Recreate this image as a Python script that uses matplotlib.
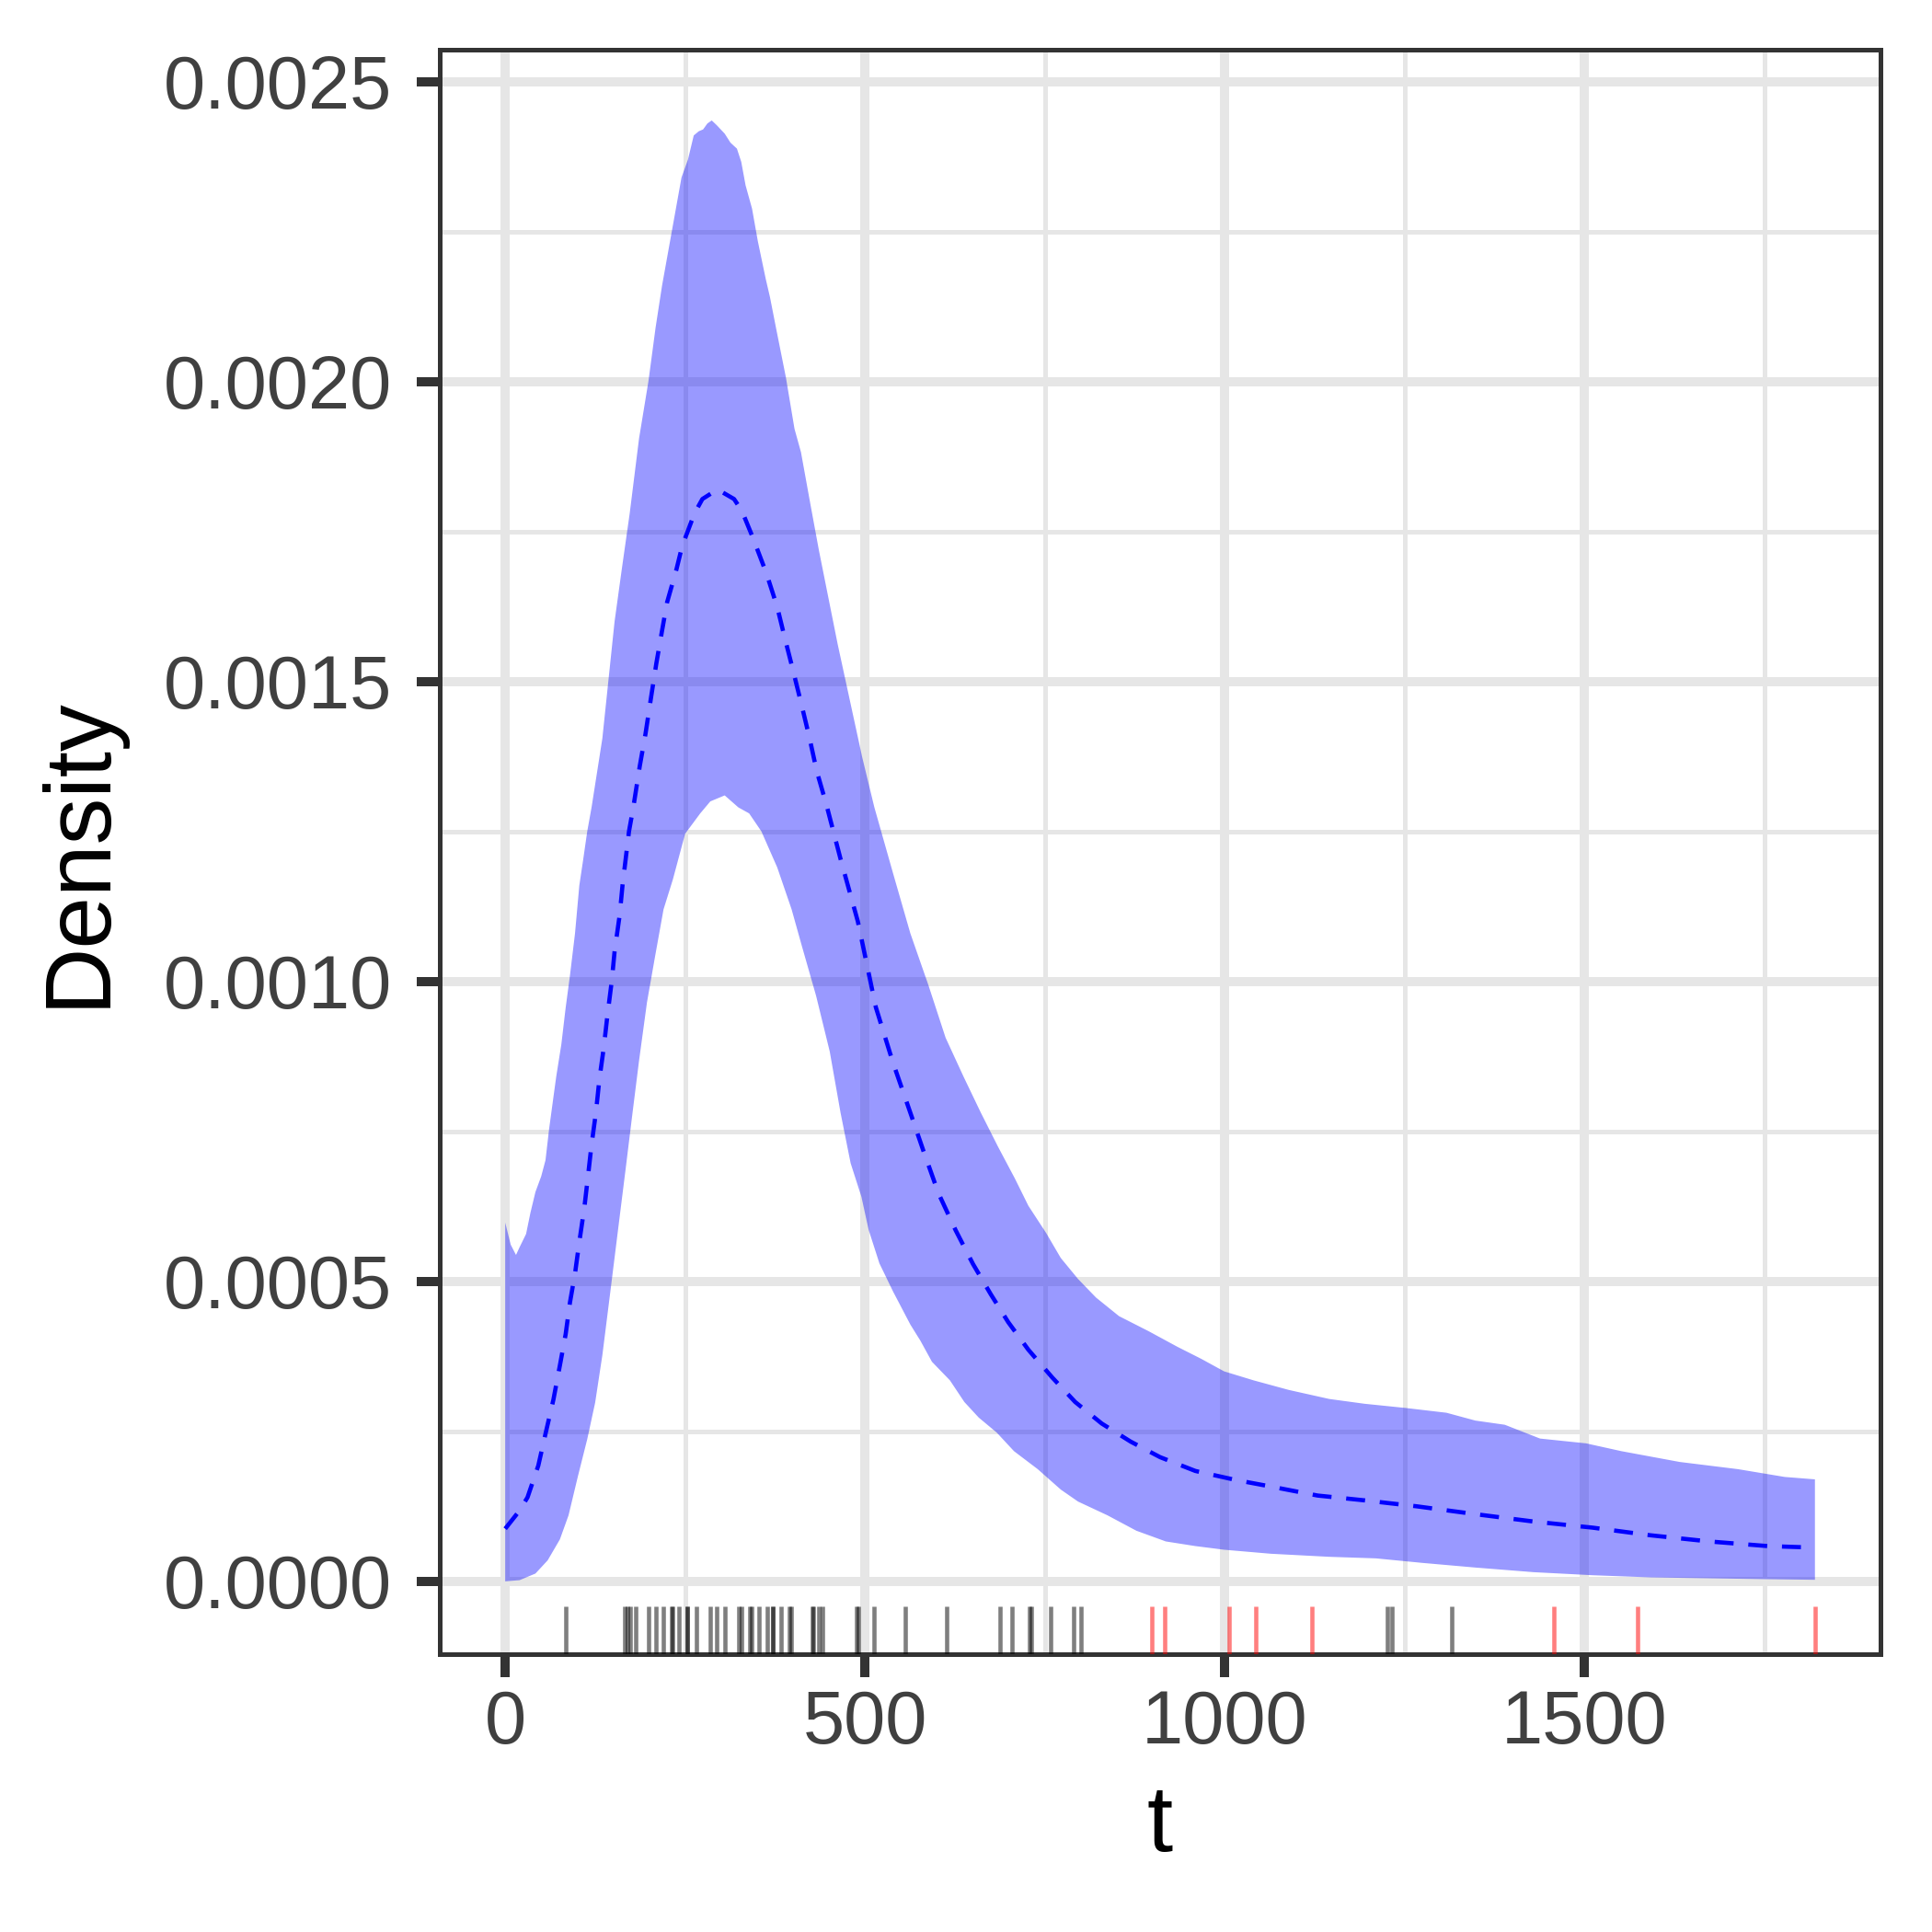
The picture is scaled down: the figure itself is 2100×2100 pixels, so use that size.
import numpy as np
import matplotlib
matplotlib.use("Agg")
import matplotlib.pyplot as plt
from matplotlib.ticker import FixedLocator, FormatStrFormatter

plt.rcParams["font.family"] = ["Liberation Sans", "DejaVu Sans"]

# ── data ─────────────────────────────────────────────────────────────────────
# upper edge of the credible band
upper_t = [0, 7.7, 15, 20, 29, 35, 42, 50, 56, 61, 67, 71, 78, 84, 90, 97,
           103, 108, 114, 120, 135, 152, 162, 173, 186, 199, 209, 218, 224,
           233, 239, 245, 254, 262, 269, 275, 281, 287, 294, 305, 313, 322,
           328, 334, 343, 351, 362, 368, 377, 390, 402, 411, 424, 436, 449,
           462, 479, 496, 513, 539, 563, 588, 612, 637, 661, 685, 708, 727,
           752, 772, 796, 821, 853, 894, 934, 967, 999, 1040, 1089, 1145,
           1194, 1251, 1308, 1348, 1389, 1438, 1502, 1551, 1632, 1713, 1778,
           1820]
upper_v = [0.000598, 0.000561, 0.000544, 0.000557, 0.000579, 0.000614,
           0.000649, 0.000675, 0.000702, 0.000754, 0.000807, 0.000842,
           0.000895, 0.000956, 0.00101, 0.00108, 0.00116, 0.0012, 0.00125,
           0.00129, 0.001405, 0.0016, 0.001687, 0.00178, 0.001905, 0.0020,
           0.00209, 0.00216, 0.0022, 0.00226, 0.0023, 0.00234, 0.00237,
           0.00241, 0.002417, 0.00242, 0.00243, 0.002435, 0.002427, 0.002413,
           0.002398, 0.002388, 0.002366, 0.002327, 0.002288, 0.002234,
           0.002171, 0.00214, 0.002085, 0.002007, 0.001921, 0.001882,
           0.001796, 0.001718, 0.00164, 0.001562, 0.001468, 0.001374,
           0.00129, 0.00118, 0.00108, 0.000994, 0.000906, 0.000841, 0.000781,
           0.000724, 0.000672, 0.000626, 0.00058, 0.000539, 0.000504,
           0.000473, 0.000442, 0.000417, 0.000391, 0.000371, 0.00035,
           0.000335, 0.000319, 0.000304, 0.000296, 0.000289, 0.000281,
           0.000268, 0.000261, 0.000238, 0.00023, 0.000217, 0.000199,
           0.000187, 0.000174, 0.00017]

# lower edge of the credible band
lower_t = [0, 20, 42, 59, 76, 88, 101, 114, 125, 135, 146, 157, 167, 176,
           186, 197, 208, 220, 233, 250, 271, 285, 305, 324, 339, 356, 378,
           398, 412, 432, 451, 466, 480, 495, 505, 520, 539, 563, 577, 593,
           618, 638, 658, 683, 707, 740, 772, 796, 837, 877, 918, 959, 999,
           1064, 1145, 1210, 1275, 1348, 1429, 1511, 1592, 1673, 1754, 1820]
lower_v = [0.0, 0.000002, 0.000013, 0.000035, 0.00007, 0.00011, 0.000175,
           0.000237, 0.000298, 0.000377, 0.000482, 0.000588, 0.000684,
           0.000772, 0.000868, 0.000965, 0.00104, 0.00112, 0.00117, 0.001246,
           0.00128, 0.0013, 0.00131, 0.00129, 0.00128, 0.00125, 0.00119,
           0.00112, 0.00106, 0.000976, 0.000883, 0.000781, 0.000697,
           0.000641, 0.000586, 0.00053, 0.000483, 0.000428, 0.000401,
           0.000366, 0.000335, 0.000299, 0.000273, 0.000248, 0.000217,
           0.000187, 0.000153, 0.000133, 0.00011, 0.0000844, 0.0000665,
           0.0000588, 0.0000527, 0.000046, 0.0000409, 0.0000383, 0.0000307,
           0.000023, 0.0000153, 0.0000102, 0.0000066, 0.0000051, 0.0000036,
           0.0000026]

# posterior mean density (dashed)
mean_t = [0, 20, 31, 46, 56, 67, 76, 84, 90, 97, 103, 110, 115, 120, 126,
          131, 137, 142, 148, 152, 159, 163, 168, 172, 178, 187, 195, 203,
          210, 218, 225, 238, 246, 263, 274, 295, 318, 329, 344, 363, 378,
          389, 399, 412, 423, 433, 446, 466, 490, 515, 539, 563, 581, 602,
          626, 650, 675, 699, 727, 760, 792, 829, 869, 910, 959, 1015, 1064,
          1129, 1194, 1267, 1348, 1429, 1511, 1592, 1673, 1754, 1820]
mean_v = [0.0000877, 0.000118, 0.00014, 0.000193, 0.000246, 0.000303,
          0.00036, 0.000412, 0.000465, 0.000513, 0.000566, 0.000623,
          0.000675, 0.000728, 0.000781, 0.000838, 0.00089, 0.000943, 0.001,
          0.00105, 0.00111, 0.00116, 0.00121, 0.00125, 0.00129, 0.001359,
          0.001413, 0.001476, 0.00153, 0.001585, 0.001632, 0.001687,
          0.001726, 0.00178, 0.001804, 0.00182, 0.001804, 0.001784, 0.00174,
          0.00168, 0.001624, 0.00157, 0.001523, 0.00146, 0.001405, 0.00135,
          0.001296, 0.001204, 0.0011, 0.000957, 0.000864, 0.000781,
          0.000718, 0.000647, 0.000585, 0.000529, 0.000478, 0.000432,
          0.000386, 0.00034, 0.000299, 0.000263, 0.000233, 0.000207,
          0.000184, 0.000169, 0.000158, 0.000143, 0.000135, 0.000125,
          0.000112, 0.0000997, 0.0000895, 0.0000767, 0.0000665, 0.0000588,
          0.0000562]

# observed times (black) and censored times (red) for the rug
obs_times = [84, 166, 169.6, 173.6, 181.8, 199.4, 209.9, 219.8, 231.5, 232,
             242, 252.6, 253, 265.4, 284.7, 293.5, 305.2, 325, 328, 340,
             342.6, 353, 364.8, 371.8, 372.3, 383.5, 395, 397.5, 426.7,
             427.9, 435.5, 440.7, 488.7, 490.4, 512, 556.5, 613.8, 687.4,
             703.8, 728.9, 731.3, 757.6, 789.7, 799.6, 1226, 1232.7, 1315.5]
cens_times = [898.3, 916.9, 1005.7, 1043.3, 1120.4, 1457.4, 1573.4, 1820.3]

# ── figure ──────────────────────────────────────────────────────────────────
fig = plt.figure(figsize=(7, 7), dpi=300)
ax = fig.add_axes([0.2276, 0.1438, 0.7457, 0.8305])

GRID = "#E6E6E6"
ax.set_axisbelow(True)
ax.grid(which="major", color=GRID, linewidth=2.4, zorder=0)
ax.grid(which="minor", color=GRID, linewidth=1.2, zorder=0)

band_x = np.concatenate([upper_t, lower_t[::-1]])
band_y = np.concatenate([upper_v, lower_v[::-1]])
ax.fill(band_x, band_y, color="blue", alpha=0.4, linewidth=0, zorder=2)

ax.plot(mean_t, mean_v, color="blue", linewidth=1.1,
        linestyle=(0, (4.5, 3.5)), zorder=3)

rug_tr = ax.get_xaxis_transform()
ax.vlines(obs_times, 0, 0.03, transform=rug_tr, color="black",
          alpha=0.5, linewidth=1.1, zorder=4)
ax.vlines(cens_times, 0, 0.03, transform=rug_tr, color="red",
          alpha=0.5, linewidth=1.1, zorder=4)

ax.set_xlim(-91, 1911)
ax.set_ylim(-0.0001214, 0.002553)

ax.xaxis.set_major_locator(FixedLocator([0, 500, 1000, 1500]))
ax.xaxis.set_minor_locator(FixedLocator([250, 750, 1250, 1750]))
ax.yaxis.set_major_locator(FixedLocator(np.arange(0, 0.00251, 0.0005)))
ax.yaxis.set_minor_locator(FixedLocator(np.arange(0.00025, 0.0025, 0.0005)))
ax.yaxis.set_major_formatter(FormatStrFormatter("%.4f"))

ax.tick_params(which="major", length=6, width=2.4, color="#333333",
               labelsize=19.5, labelcolor="#404040")
ax.tick_params(axis="x", which="major", pad=3)
ax.tick_params(axis="y", which="major", pad=6.5)
ax.tick_params(which="minor", length=0)

for sp in ax.spines.values():
    sp.set_color("#333333")
    sp.set_linewidth(1.2)

ax.set_xlabel("t", fontsize=24.4, color="black")
ax.set_ylabel("Density", fontsize=24.4, color="black")
ax.xaxis.set_label_coords(0.5, -0.08)
ax.yaxis.set_label_coords(-0.22, 0.5)

fig.savefig("out.png", dpi=300)
